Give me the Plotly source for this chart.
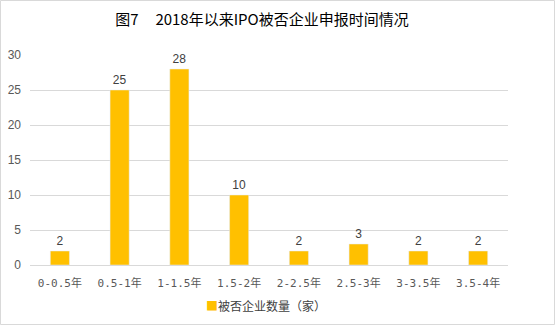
import plotly.graph_objects as go

categories = ["0-0.5年", "0.5-1年", "1-1.5年", "1.5-2年", "2-2.5年", "2.5-3年", "3-3.5年", "3.5-4年"]
values = [2, 25, 28, 10, 2, 3, 2, 2]
series_name = "被否企业数量（家）"
title_text = "图7\u00a0\u00a0\u00a0\u00a0\u00a02018年以来IPO被否企业申报时间情况"
y_ticks = [0, 5, 10, 15, 20, 25, 30]
bar_color = "#FFC000"

fig = go.Figure()
fig.add_trace(go.Bar(
    x=categories, y=values, name=series_name,
    marker=dict(color=bar_color),
    width=0.32,
    text=[str(v) for v in values], textposition="outside",
    textfont=dict(family="Liberation Sans, Arial, sans-serif", size=12, color="#404040"),
    cliponaxis=False, showlegend=False,
))

fig.update_layout(
    width=555, height=325,
    margin=dict(l=30, r=47, t=55, b=60, autoexpand=False),
    paper_bgcolor="white", plot_bgcolor="white",
    title=dict(text=title_text, x=262 / 555, xanchor="center", y=1 - 20 / 325, yanchor="middle",
               font=dict(family="Noto Sans CJK SC, sans-serif", size=15, color="#000000")),
    bargap=0.68,
    xaxis=dict(type="category", showgrid=False, showline=True, linecolor="#d9d9d9", linewidth=1,
               ticks="", ticklabelstandoff=8,
               tickfont=dict(family="DejaVu Sans Mono, Noto Sans CJK SC, monospace", size=11, color="#595959")),
    yaxis=dict(range=[0, 30], tickvals=y_ticks, showgrid=True, gridcolor="#d9d9d9", gridwidth=1,
               zeroline=False, showline=False, ticks="", ticklabelstandoff=8,
               tickfont=dict(family="Liberation Sans, Arial, sans-serif", size=12, color="#595959")),
    annotations=[dict(
        xref="paper", yref="paper", x=(204 - 30) / 478, y=-40 / 210, xanchor="left", yanchor="middle",
        text=f"<span style='color:{bar_color}'>■</span>{series_name}", showarrow=False,
        font=dict(family="Noto Sans CJK SC, sans-serif", size=12, color="#404040"),
    )],
    shapes=[dict(type="rect", xref="paper", yref="paper", x0=-29.5 / 478, x1=1 + 46.5 / 478,
                 y0=-59.5 / 210, y1=1 + 54.5 / 210, line=dict(color="#d9d9d9", width=1))],
)

fig.write_html("out.html")
